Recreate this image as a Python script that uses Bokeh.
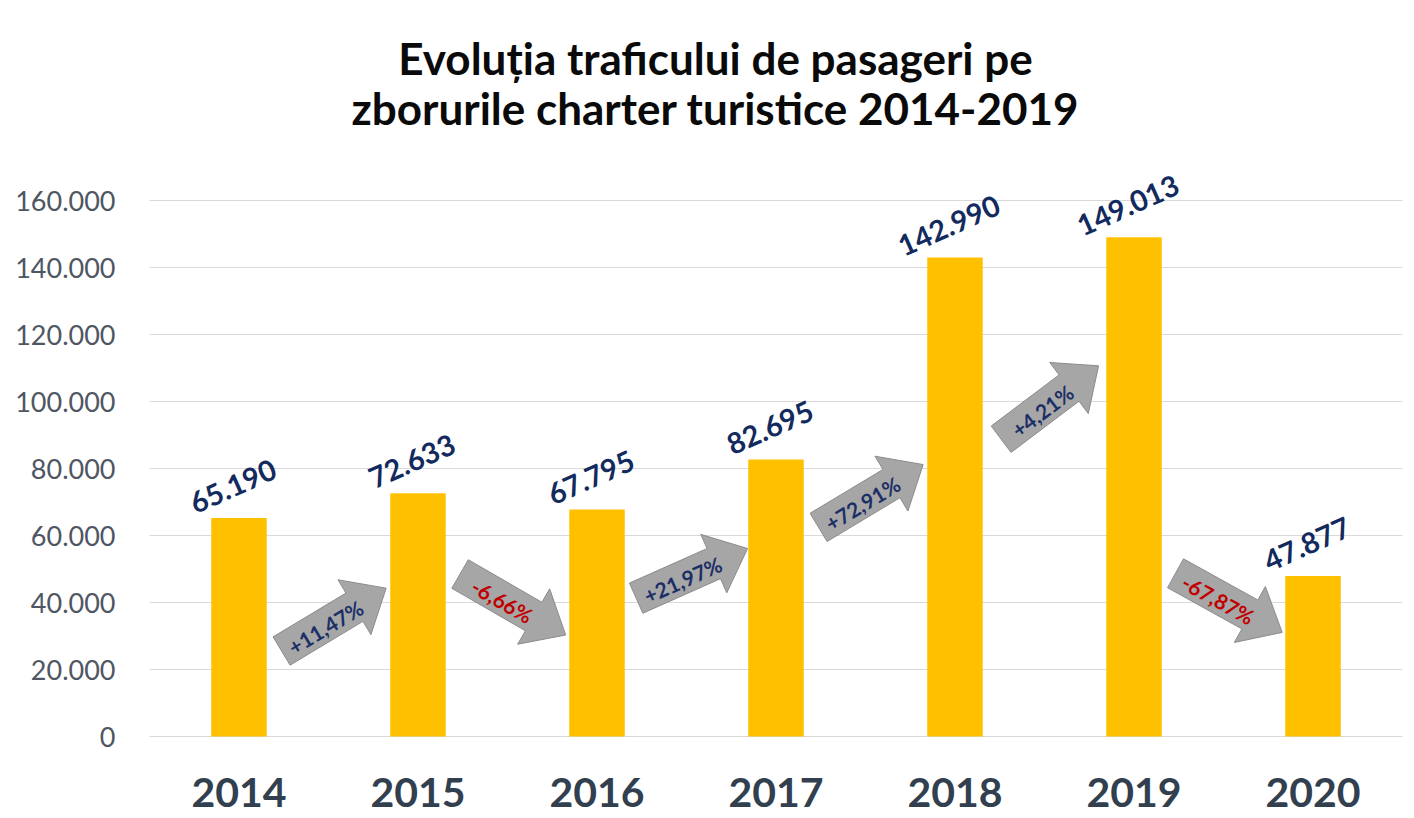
import math
from bokeh.plotting import figure
from bokeh.models import FixedTicker, Range1d
from bokeh.embed import file_html
from bokeh.resources import INLINE
from bokeh.core.properties import value

# ---------------- data ----------------
years = ["2014", "2015", "2016", "2017", "2018", "2019", "2020"]
passengers = [65190, 72633, 67795, 82695, 142990, 149013, 47877]
changes = ["+11,47%", "-6,66%", "+21,97%", "+72,91%", "+4,21%", "-67,87%"]
y_ticks = [0, 20000, 40000, 60000, 80000, 100000, 120000, 140000, 160000]
title_lines = ["Evoluția traficului de pasageri pe",
               "zborurile charter turistice 2014-2019"]

# ---------------- annotation layout ----------------
arrow_mid = [34900, 39400, 48700, 71800, 99700, 39900]   # vertical anchor of each arrow
arrow_angle = [31, -30, 24, 31, 37, -29]                 # degrees

W, H = 1412, 816
ORG = 1                      # page px of canvas top-left
BL, BR = 149, 10
FW = W - BL - BR
ZERO_PX = 737                # page y of the zero line
YPP = 160000 / 536.0         # y units per px
XPX = FW / 7.0               # px per category
Y0 = -(ORG + H - ZERO_PX) * YPP
Y1 = (ZERO_PX - ORG) * YPP


def ydata(page_y):
    return (ZERO_PX - page_y) * YPP


def xdata(page_x):
    return (page_x - (ORG + BL)) / XPX - 0.5


FONT = value("Lato")

p = figure(width=W, height=H, output_backend="svg", toolbar_location=None,
           x_range=Range1d(-0.5, 6.5), y_range=Range1d(Y0, Y1),
           min_border_left=BL, min_border_right=BR, min_border_top=0,
           min_border_bottom=0)
p.outline_line_color = None
p.background_fill_color = "white"
p.border_fill_color = "white"

xs = list(range(len(years)))
p.vbar(x=xs, top=passengers, width=0.31, fill_color="#FFC000", line_color=None)

# value labels
p.text(x=[x - 6 / XPX for x in xs], y=[v + 32 * YPP for v in passengers],
       text=[f"{v:,}".replace(",", ".") for v in passengers],
       angle=24, angle_units="deg", text_align="center", text_baseline="middle",
       text_font=FONT, text_font_style="bold", text_font_size="29px",
       text_color="#132A5E")

# arrows
shape = [(-61, -16.5), (24, -16.5), (24, -32), (61, 0), (24, 32), (24, 16.5), (-61, 16.5)]
pxs, pys, tx, ty, tcol = [], [], [], [], []
for i, (lab, my, ang) in enumerate(zip(changes, arrow_mid, arrow_angle)):
    cx = i + 0.53
    a = math.radians(ang)
    ca, sa = math.cos(a), math.sin(a)
    pxs.append([cx + (u * ca - w * sa) / XPX for u, w in shape])
    pys.append([my + (u * sa + w * ca) * YPP for u, w in shape])
    u, w = -11, -2
    tx.append(cx + (u * ca - w * sa) / XPX)
    ty.append(my + (u * sa + w * ca) * YPP)
    tcol.append("#C00000" if lab.startswith("-") else "#1B2F66")
p.patches(pxs, pys, fill_color="#A6A6A6", line_color="#8C8C8C", line_width=1)
p.text(x=tx, y=ty, text=changes, angle=arrow_angle, angle_units="deg",
       text_align="center", text_baseline="middle", text_font=FONT,
       text_font_style="bold", text_font_size="21px", text_color=tcol)

# category labels (below zero line)
p.text(x=xs, y=[ydata(793)] * len(xs), text=years, text_align="center",
       text_baseline="middle", text_font=FONT, text_font_style="bold",
       text_font_size="41px", text_color="#323F4F")

# title
p.text(x=[xdata(716)] * 2, y=[ydata(58), ydata(108)], text=title_lines,
       text_align="center", text_baseline="middle", text_font=FONT,
       text_font_style="bold", text_font_size="44px", text_color="#0A0A0A")

# axes
p.xaxis.visible = False
p.xgrid.grid_line_color = None
p.ygrid.grid_line_color = "#D9D9D9"
p.yaxis.ticker = FixedTicker(ticks=y_ticks)
p.yaxis.major_label_overrides = {t: f"{t:,}".replace(",", ".") for t in y_ticks}
p.yaxis.axis_line_color = None
p.yaxis.major_tick_line_color = None
p.yaxis.minor_tick_line_color = None
p.yaxis.major_label_text_font = "Lato"
p.yaxis.major_label_text_font_size = "27px"
p.yaxis.major_label_text_color = "#4F5663"
p.yaxis.major_label_standoff = 28

open("out.html", "w").write(file_html(p, INLINE))
